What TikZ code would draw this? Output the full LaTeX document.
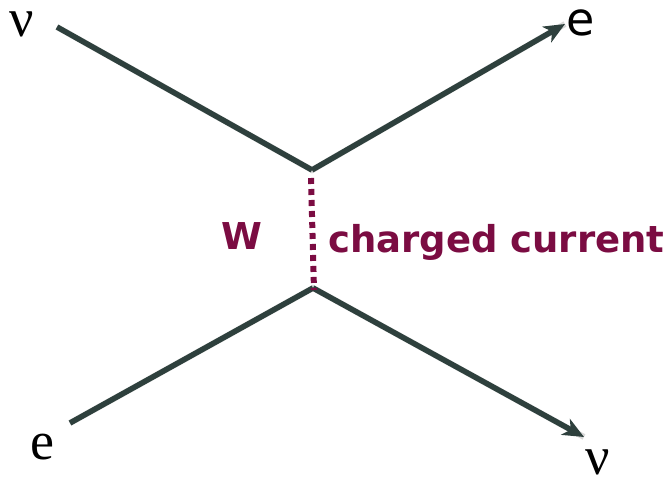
\documentclass[tikz,border=0pt]{standalone}
\usepackage{fontspec}
\setmainfont{Liberation Serif}
\newfontfamily\labsans{DejaVu Sans}
\usetikzlibrary{arrows.meta}
\definecolor{linec}{HTML}{2E403D}
\definecolor{wcol}{HTML}{7B0C42}
\begin{document}
\begin{tikzpicture}[x=1pt,y=-1pt,
  fermion/.style={draw=linec,line width=5.5pt},
  fermarrow/.style={fermion,-{Stealth[length=21pt,width=18pt,inset=6pt]}},
  shadowline/.style={draw=black!15,line width=6pt,shift={(2pt,-3pt)}},
  boson/.style={draw=wcol,line width=6pt,dash pattern=on 6pt off 5pt},
  greek/.style={font=\fontsize{54}{58}\selectfont,inner sep=0pt,anchor=base},
  sanslab/.style={font=\labsans\fontsize{46}{50}\selectfont,inner sep=0pt,anchor=base},
  wlab/.style={font=\labsans\bfseries\fontsize{37}{40}\selectfont,text=wcol,inner sep=0pt}]
\useasboundingbox (0,0) rectangle (665,479);
% vertices and ends
\coordinate (a1) at (57,27);
\coordinate (v1) at (312,170);
\coordinate (a2) at (565,24);
\coordinate (b1) at (70,423);
\coordinate (v2) at (313,288);
\coordinate (b2) at (584,437);
\coordinate (w1) at (311,178);
\coordinate (w2) at (314,290);
% shadows
\draw[shadowline,line join=miter] (a1) -- (v1) -- (a2);
\draw[shadowline,line join=miter] (b1) -- (v2) -- (b2);
% lines
\draw[fermion,line join=miter] (a1) -- (v1);
\draw[fermarrow] (v1) -- (a2);
\draw[fermion] (b1) -- (v2);
\draw[fermarrow] (v2) -- (b2);
\draw[boson] (w1) -- (w2);
% labels
\node[greek] (nu1) at (22,37) {ν};
\node[sanslab] (e1) at (581,35) {e};
\node[greek] (e2) at (42,459) {e};
\node[greek] (nu2) at (598,474) {ν};
\node[wlab] (wl) at (242,236) {W};
\node[wlab,anchor=base west] (cc) at (328,252) {charged current};
\end{tikzpicture}
\end{document}
